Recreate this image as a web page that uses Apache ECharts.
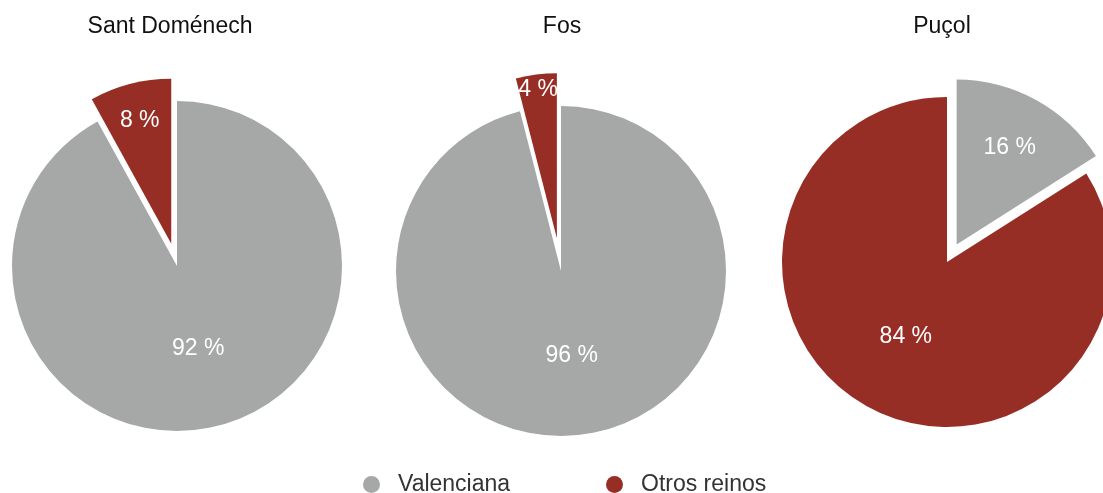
<!DOCTYPE html>
<html>
<head>
<meta charset="utf-8">
<script src="https://cdn.jsdelivr.net/npm/echarts@6/dist/echarts.min.js"></script>
<style>
  html, body { margin: 0; padding: 0; background: #fff; }
  #chart { width: 1103px; height: 493px; }
</style>
</head>
<body>
<div id="chart"></div>
<script>
// lugares (uno por tarta)
const places = ['Sant Doménech', 'Fos', 'Puçol'];
// categorías
const categories = ['Valenciana', 'Otros reinos'];
// porcentajes por lugar
const valenciana = [92, 96, 16];
const otrosReinos = [8, 4, 84];
// porción separada en cada tarta
const pulledOut = ['Otros reinos', 'Otros reinos', 'Valenciana'];

const colors = { 'Valenciana': '#a5a8a6', 'Otros reinos': '#972e25' };
const centers = [[177, 266], [561, 271], [947, 262]];
const offsets = [23, 33, 20];
// radio de la serie auxiliar que coloca la etiqueta de la porción pequeña
const ghostRadius = [248, 294, 214];
const titleX = [165, 557, 937];
const R = 165;
const font = 'Liberation Sans, Arial, sans-serif';

function sliceData(i, ghost) {
  const values = [valenciana[i], otrosReinos[i]];
  return categories.map((name, k) => {
    const isOut = pulledOut[i] === name;
    const big = values[k] >= 50;
    return {
      name: name,
      value: values[k],
      selected: isOut,
      itemStyle: { color: ghost ? 'rgba(0,0,0,0)' : colors[name] },
      label: { show: ghost ? !big : big }
    };
  });
}

const series = [];
places.forEach((p, i) => {
  const common = {
    type: 'pie',
    center: centers[i],
    startAngle: 90,
    clockwise: true,
    selectedMode: 'single',
    selectedOffset: offsets[i],
    silent: true,
    animation: false,
    emphasis: { disabled: true },
    labelLine: { show: false },
    itemStyle: { borderWidth: 0 },
    label: {
      position: 'inside',
      formatter: '{c} %',
      color: '#fff',
      fontSize: 23,
      fontFamily: font
    }
  };
  // tarta visible
  series.push(Object.assign({}, common, {
    name: p,
    radius: [0, R],
    data: sliceData(i, false)
  }));
  // serie transparente solo para la etiqueta de la porción pequeña
  series.push(Object.assign({}, common, {
    name: p + ' etiquetas',
    radius: [0, ghostRadius[i]],
    data: sliceData(i, true)
  }));
});

function legendFor(k, left) {
  return {
    left: left, top: 468, icon: 'circle', itemWidth: 17, itemHeight: 17,
    selectedMode: false,
    textStyle: { color: '#333', fontSize: 23, fontFamily: font, padding: [0, 0, 0, 13] },
    data: [{ name: categories[k], itemStyle: { color: colors[categories[k]] } }]
  };
}

const chart = echarts.init(document.getElementById('chart'));
chart.setOption({
  title: places.map((p, i) => ({
    text: p,
    left: titleX[i],
    top: 10,
    textAlign: 'center',
    textStyle: { color: '#111', fontSize: 23, fontWeight: 'normal', fontFamily: font }
  })),
  legend: [legendFor(0, 358), legendFor(1, 601)],
  series: series
});
</script>
</body>
</html>
